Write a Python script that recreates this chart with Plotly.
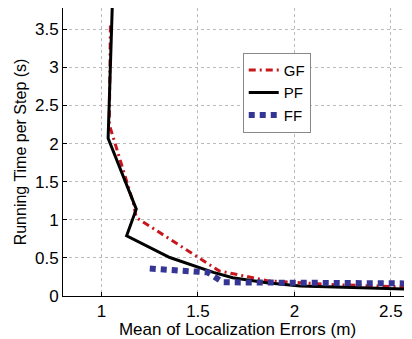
import plotly.graph_objects as go

# Data
pf_x = [1.058, 1.047, 1.034, 1.18, 1.13, 1.354, 1.58, 1.68, 1.856, 2.03, 2.61]
pf_y = [4.0, 3.0, 2.07, 1.14, 0.79, 0.505, 0.31, 0.24, 0.175, 0.13, 0.088]

gf_x = [1.046, 1.043, 1.04, 1.165, 1.18, 1.61, 1.86, 2.2, 2.61]
gf_y = [3.55, 3.0, 2.25, 1.22, 1.03, 0.33, 0.2, 0.15, 0.115]

ff_x = [1.25, 1.55, 1.63, 2.0, 2.61]
ff_y = [0.36, 0.31, 0.18, 0.17, 0.165]

x_ticks = [1, 1.5, 2, 2.5]
y_ticks = [0, 0.5, 1, 1.5, 2, 2.5, 3, 3.5]

fig = go.Figure()
fig.add_trace(go.Scatter(x=gf_x, y=gf_y, mode="lines", name="GF",
                         line=dict(color="#c8161d", width=3, dash="7px,4px,2px,4px")))
fig.add_trace(go.Scatter(x=pf_x, y=pf_y, mode="lines", name="PF",
                         line=dict(color="black", width=3)))
fig.add_trace(go.Scatter(x=ff_x, y=ff_y, mode="lines", name="FF",
                         line=dict(color="#353595", width=6, dash="6px,5px")))

font_family = "Liberation Sans, Arial, sans-serif"
fig.update_layout(
    width=404, height=331,
    margin=dict(l=55, r=0, t=0, b=43),
    plot_bgcolor="white", paper_bgcolor="white",
    font=dict(family=font_family, size=15, color="black"),
    showlegend=True,
    legend=dict(x=0.515, y=0.845, xanchor="left", yanchor="top",
                bgcolor="white", bordercolor="#888888", borderwidth=1,
                font=dict(size=15), tracegroupgap=0),
    xaxis=dict(range=[0.8, 2.61], tickvals=x_ticks, ticktext=["1", "1.5", "2", "2.5"],
               showgrid=True, gridcolor="#bbbbbb", griddash="dot", gridwidth=1,
               showline=True, linecolor="black", linewidth=1, mirror=True,
               ticks="inside", ticklen=4, tickcolor="black",
               tickfont=dict(size=17), zeroline=False,
               title=dict(text="Mean of Localization Errors (m)", font=dict(size=17), standoff=0)),
    yaxis=dict(range=[0, 3.78], tickvals=y_ticks, ticktext=["0", "0.5", "1", "1.5", "2", "2.5", "3", "3.5"],
               showgrid=True, gridcolor="#bbbbbb", griddash="dot", gridwidth=1,
               showline=True, linecolor="black", linewidth=1, mirror=True,
               ticks="inside", ticklen=4, tickcolor="black",
               tickfont=dict(size=17), zeroline=False,
               title=dict(text="Running Time per Step (s)", font=dict(size=16), standoff=4)),
)

fig.write_html("out.html")
